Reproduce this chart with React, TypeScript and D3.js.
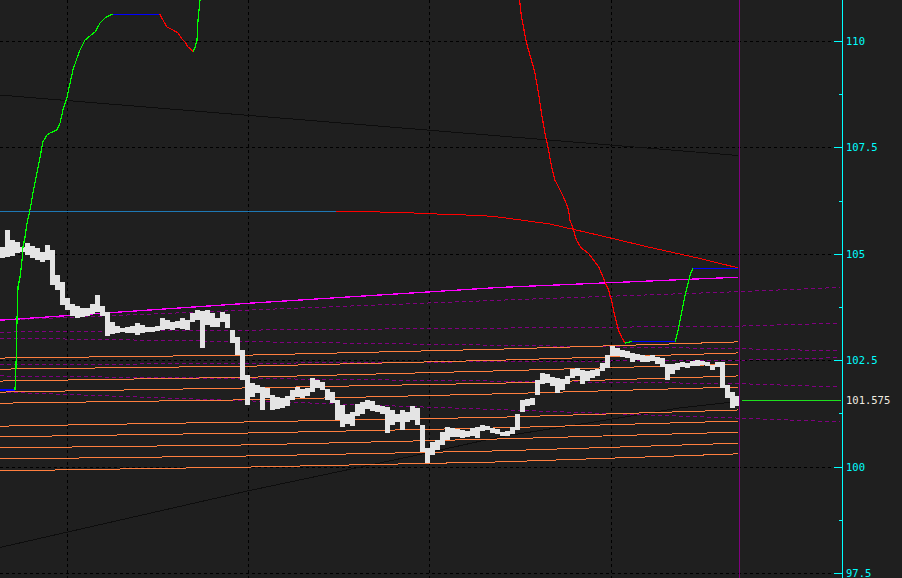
import React from 'react';
import * as d3 from 'd3';

const W = 902;
const H = 578;

// ---- axis ----
const majorTicks = [110, 107.5, 105, 102.5, 100, 97.5];
const tickLabels = ['110', '107.5', '105', '102.5', '100', '97.5'];
const minorTicks = [108.75, 106.25, 103.75, 101.25, 98.75];
const lastPrice = 101.575;
const lastPriceLabel = '101.575';
const timeGrid = [12.9, 49.1, 85.3, 121.7];
const lastBarIndex = 147.3;

// ---- price bars (one per column) ----
const barHigh = [
  105.16, 105.56, 105.32, 105.28, 105.16, 105.25, 105.18, 105.14, 105.04, 105.21,
  105.09, 104.50, 104.34, 103.96, 103.82, 103.77, 103.73, 103.73, 103.82, 104.03,
  103.77, 103.63, 103.40, 103.30, 103.26, 103.28, 103.30, 103.37, 103.33, 103.28,
  103.28, 103.30, 103.49, 103.44, 103.40, 103.42, 103.49, 103.44, 103.61, 103.68,
  103.66, 103.68, 103.61, 103.49, 103.63, 103.59, 103.21, 103.05, 102.74, 102.15,
  101.96, 101.92, 101.87, 101.85, 101.68, 101.64, 101.61, 101.66, 101.80, 101.87,
  101.82, 101.85, 102.08, 102.03, 101.99, 101.82, 101.75, 101.57, 101.45, 101.24,
  101.28, 101.47, 101.52, 101.57, 101.54, 101.45, 101.42, 101.40, 101.33, 101.24,
  101.33, 101.28, 101.42, 101.38, 100.98, 100.44, 100.58, 100.62, 100.81, 100.93,
  100.91, 100.88, 100.86, 100.84, 100.91, 100.93, 100.98, 100.95, 100.91, 100.88,
  100.81, 100.84, 100.93, 101.24, 101.57, 101.59, 101.61, 102.03, 102.20, 102.18,
  102.11, 102.08, 102.06, 102.13, 102.29, 102.32, 102.27, 102.25, 102.27, 102.29,
  102.43, 102.62, 102.83, 102.79, 102.74, 102.72, 102.67, 102.65, 102.62, 102.60,
  102.62, 102.58, 102.55, 102.41, 102.41, 102.43, 102.46, 102.43, 102.48, 102.50,
  102.48, 102.46, 102.39, 102.46, 102.46, 101.92, 101.75, 101.66,
];
const barLow = [
  104.90, 104.92, 104.95, 105.02, 105.04, 104.97, 104.90, 104.85, 104.81, 104.85,
  104.26, 104.15, 103.80, 103.68, 103.54, 103.49, 103.51, 103.54, 103.59, 103.63,
  103.54, 103.07, 103.12, 103.14, 103.16, 103.14, 103.14, 103.09, 103.14, 103.16,
  103.16, 103.19, 103.21, 103.23, 103.21, 103.26, 103.23, 103.21, 103.40, 103.44,
  102.79, 103.33, 103.28, 103.28, 103.40, 103.26, 102.90, 102.62, 102.03, 101.45,
  101.64, 101.73, 101.33, 101.61, 101.33, 101.35, 101.38, 101.42, 101.57, 101.64,
  101.61, 101.66, 101.75, 101.85, 101.80, 101.57, 101.49, 101.10, 100.93, 101.00,
  100.95, 101.19, 101.24, 101.35, 101.31, 101.28, 101.24, 100.79, 100.98, 101.05,
  100.86, 101.05, 101.10, 100.98, 100.34, 100.08, 100.27, 100.39, 100.51, 100.62,
  100.70, 100.70, 100.67, 100.70, 100.72, 100.67, 100.84, 100.86, 100.79, 100.77,
  100.72, 100.72, 100.77, 100.86, 101.28, 101.42, 101.45, 101.68, 101.94, 101.96,
  101.89, 101.73, 101.80, 101.94, 102.08, 102.13, 101.94, 102.01, 102.08, 102.13,
  102.25, 102.32, 102.60, 102.60, 102.58, 102.55, 102.46, 102.50, 102.46, 102.46,
  102.48, 102.41, 102.34, 102.03, 102.18, 102.27, 102.34, 102.32, 102.36, 102.36,
  102.39, 102.36, 102.27, 102.34, 101.85, 101.61, 101.38, 101.42,
];

// ---- trend indicator (colour by slope), [bar index, price] ----
const trendLeft: [number, number][] = [
  [-0.5, 101.8], [2.5, 101.8], [2.7, 102.34], [2.9, 103.44], [3.1, 104.22], [3.5, 104.45],
  [3.9, 104.85], [4.1, 105.16], [4.5, 105.39], [4.9, 105.72], [5.5, 106.03], [6.1, 106.43],
  [6.9, 106.9], [7.5, 107.27], [8.1, 107.63], [8.9, 107.79], [9.5, 107.84], [10.9, 107.91],
  [11.5, 108.07], [12.1, 108.38], [12.9, 108.68], [13.5, 109.01], [14.1, 109.32], [14.9, 109.6],
  [15.5, 109.79], [16.5, 110.02], [17.5, 110.12], [18.5, 110.21], [19.5, 110.42], [20.5, 110.54],
  [21.5, 110.61], [22.1, 110.63], [31.5, 110.63], [32.1, 110.49], [32.9, 110.33], [34.1, 110.26],
  [35.1, 110.19], [35.9, 110.05], [36.5, 109.98], [37.1, 109.86], [38.1, 109.76], [38.5, 109.84],
  [38.9, 110.02], [39.1, 110.49], [39.5, 110.96], [40.5, 112.4],
];
const trendRight: [number, number][] = [
  [102.9, 111.43], [103.4, 110.96], [103.8, 110.57], [104.8, 109.95], [105.8, 109.55],
  [106.5, 109.24], [107.2, 108.77], [107.8, 108.3], [108.5, 107.83], [109.2, 107.44],
  [109.8, 107.05], [110.5, 106.73], [111.5, 106.5], [112.5, 106.26], [113.2, 106.03],
  [113.5, 105.79], [114.2, 105.56], [114.8, 105.32], [115.8, 105.13], [117.2, 105.01],
  [118.2, 104.85], [119.2, 104.7], [119.8, 104.54], [120.5, 104.34], [121.2, 104.15],
  [121.8, 103.91], [122.5, 103.52], [123.2, 103.21], [123.9, 103.02], [124.5, 102.9],
  [125.9, 102.94], [134.5, 102.94], [134.9, 103.09], [135.5, 103.44], [136.5, 104.03],
  [137.5, 104.5], [138.1, 104.66], [147.1, 104.66],
];

// ---- slow moving average (flat = steel blue, falling = red) ----
const slowMA: [number, number][] = [
  [-0.5, 106.0], [66.7, 106.0], [76.3, 105.98], [82.1, 105.96], [87.9, 105.93], [93.1, 105.91],
  [96.7, 105.89], [99.5, 105.86], [109.5, 105.7], [119.5, 105.43], [129.5, 105.15],
  [139.5, 104.89], [147.1, 104.67],
];

// ---- black lines ----
const upperBlack: [number, number][] = [[-0.5, 108.73], [147.1, 107.31]];
const lowerBlack: [number, number][] = [
  [-0.5, 98.1], [49.1, 99.43], [84.9, 100.32], [99.5, 100.7], [119.5, 101.07], [135.5, 101.38], [147.1, 101.53],
];

// ---- magenta line ----
const magentaLine: [number, number][] = [[-0.5, 103.44], [49.5, 103.84], [99.5, 104.21], [147.1, 104.45]];

// ---- orange level lines: price at bar index anchors ----
const levelAnchors = [-0.5, 49.5, 99.5, 147.1];
const level1 = [102.55, 102.62, 102.76, 102.93];
const level2 = [102.29, 102.36, 102.5, 102.67];
const level3 = [102.01, 102.1, 102.25, 102.41];
const level4 = [101.75, 101.85, 101.96, 102.13];
const level5 = [101.49, 101.57, 101.71, 101.87];
const level6 = [100.95, 101.05, 101.16, 101.33];
const level7 = [100.7, 100.79, 100.91, 101.07];
const level8 = [100.44, 100.51, 100.65, 100.81];
const level9 = [100.18, 100.25, 100.37, 100.55];
const level10 = [99.9, 99.99, 100.11, 100.3];

// ---- purple dashed projections ----
const dash1: [number, number][] = [[-0.5, 103.44], [49.5, 103.68], [99.5, 103.91], [147.1, 104.11], [167.5, 104.21]];
const dash2: [number, number][] = [[-0.5, 103.16], [147.1, 103.3], [167.5, 103.37]];
const dash3: [number, number][] = [[-0.5, 103.02], [147.1, 102.77], [167.5, 102.72]];
const dash4: [number, number][] = [[-0.5, 102.39], [147.1, 102.5], [167.5, 102.56]];
const dash5: [number, number][] = [[-0.5, 102.13], [147.1, 101.95], [167.5, 101.87]];
const dash6: [number, number][] = [[-0.5, 101.75], [147.1, 101.14], [167.5, 101.05]];

const BG = '#1f1f1f';
const CYAN = '#00ffff';
const ORANGE = '#ff7f3f';
const PURPLE = '#800080';

function slopeSegments(data: [number, number][], flat: string) {
  const out: { a: [number, number]; b: [number, number]; c: string }[] = [];
  for (let i = 1; i < data.length; i++) {
    const a = data[i - 1];
    const b = data[i];
    const c = b[1] > a[1] + 1e-9 ? '#00ff00' : b[1] < a[1] - 1e-9 ? '#ff0000' : flat;
    out.push({ a, b, c });
  }
  return out;
}

export default function App() {
  const x = d3.scaleLinear().domain([0, 147]).range([2.5, 737.5]);
  const y = d3.scaleLinear().domain([97.5, 110]).range([573, 41]);
  const line = d3
    .line<[number, number]>()
    .x((d) => x(d[0]))
    .y((d) => y(d[1]));

  const axisX = 842;
  const gridRight = 834;
  const levels = [level1, level2, level3, level4, level5, level6, level7, level8, level9, level10];
  const dashes = [dash1, dash2, dash3, dash4, dash5, dash6];

  const segs = [
    ...slopeSegments(trendLeft, '#0000ff'),
    ...slopeSegments(trendRight, '#0000ff'),
  ];
  const maSegs = slopeSegments(slowMA, '#1e78b4');

  return (
    <svg
      width={W}
      height={H}
      style={{ position: 'fixed', left: 0, top: 0, display: 'block', background: BG }}
      shapeRendering="crispEdges"
    >
      <rect x={0} y={0} width={W} height={H} fill={BG} />
      <defs>
        <clipPath id="plot">
          <rect x={0} y={0} width={axisX} height={H} />
        </clipPath>
      </defs>

      {/* grid */}
      {majorTicks.map((t) => (
        <line key={'hg' + t} x1={0} x2={gridRight} y1={Math.round(y(t)) + 0.5} y2={Math.round(y(t)) + 0.5}
          stroke="#000" strokeDasharray="3,3" />
      ))}
      {timeGrid.map((t) => (
        <line key={'vg' + t} x1={Math.round(x(t)) + 0.5} x2={Math.round(x(t)) + 0.5} y1={0} y2={H}
          stroke="#000" strokeDasharray="3,3" />
      ))}

      <g clipPath="url(#plot)">
        {/* black lines */}
        <path d={line(upperBlack) || ''} fill="none" stroke="#0d0d0d" strokeWidth={1} />
        <path d={line(lowerBlack) || ''} fill="none" stroke="#0d0d0d" strokeWidth={1} />

        {/* purple dashed */}
        {dashes.map((d, i) => (
          <path key={'pd' + i} d={line(d) || ''} fill="none" stroke={PURPLE} strokeWidth={1} strokeDasharray="4,3" />
        ))}

        {/* orange levels */}
        {levels.map((lv, i) => (
          <path key={'lv' + i} d={line(lv.map((v, j) => [levelAnchors[j], v] as [number, number])) || ''}
            fill="none" stroke={ORANGE} strokeWidth={1} />
        ))}

        {/* magenta */}
        <path d={line(magentaLine) || ''} fill="none" stroke="#ff00ff" strokeWidth={1.3} />

        {/* slow MA */}
        {maSegs.map((s, i) => (
          <line key={'ma' + i} x1={x(s.a[0])} y1={y(s.a[1])} x2={x(s.b[0])} y2={y(s.b[1])} stroke={s.c} strokeWidth={1} />
        ))}

        {/* price bars */}
        {barHigh.map((h, i) => (
          <rect key={'b' + i} x={Math.round(x(i) - 2.5)} width={5} y={Math.round(y(h))}
            height={Math.max(1, Math.round(y(barLow[i])) - Math.round(y(h)))} fill="#e4e4e4" />
        ))}

        {/* trend indicator */}
        {segs.map((s, i) => (
          <line key={'tr' + i} x1={x(s.a[0])} y1={y(s.a[1])} x2={x(s.b[0])} y2={y(s.b[1])} stroke={s.c} strokeWidth={1.2} />
        ))}
      </g>

      {/* last bar marker */}
      <line x1={Math.round(x(lastBarIndex)) + 0.5} x2={Math.round(x(lastBarIndex)) + 0.5} y1={0} y2={H} stroke={PURPLE} strokeWidth={1} />

      {/* last price line */}
      <line x1={742} x2={axisX - 1} y1={Math.round(y(lastPrice)) + 0.5} y2={Math.round(y(lastPrice)) + 0.5} stroke="#1ee01e" strokeWidth={1} />

      {/* axis */}
      <line x1={axisX + 0.5} x2={axisX + 0.5} y1={0} y2={H} stroke={CYAN} strokeWidth={1} />
      {majorTicks.map((t) => (
        <line key={'mt' + t} x1={axisX - 8} x2={axisX} y1={Math.round(y(t)) + 0.5} y2={Math.round(y(t)) + 0.5} stroke={CYAN} strokeWidth={1} />
      ))}
      {minorTicks.map((t) => (
        <line key={'mn' + t} x1={axisX - 3} x2={axisX} y1={Math.round(y(t)) + 0.5} y2={Math.round(y(t)) + 0.5} stroke={CYAN} strokeWidth={1} />
      ))}
      {majorTicks.map((t, i) => (
        <text key={'tl' + t} x={axisX + 4} y={y(t) + 4} fill={CYAN} fontFamily="DejaVu Sans Mono" fontSize={10.5}>
          {tickLabels[i]}
        </text>
      ))}
      <text x={axisX + 4} y={y(lastPrice) + 4} fill="#f0ece0" fontFamily="DejaVu Sans Mono" fontSize={10.5}>
        {lastPriceLabel}
      </text>
    </svg>
  );
}
